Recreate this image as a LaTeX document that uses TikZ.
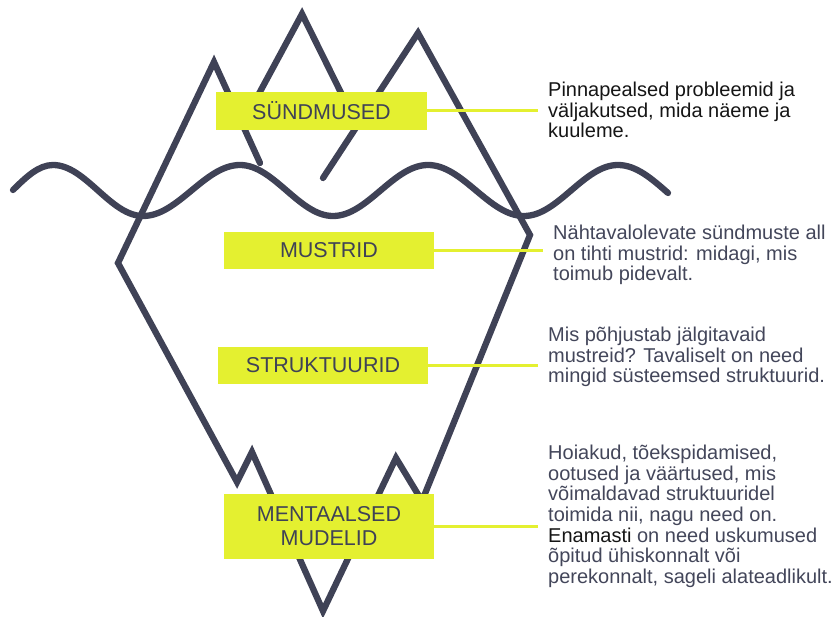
\documentclass[tikz,border=0pt]{standalone}
\usepackage{fontspec}
\setmainfont{Liberation Sans}
\definecolor{iceC}{HTML}{3F4256}
\definecolor{limeC}{HTML}{E4F030}
\definecolor{descC}{HTML}{43465A}
\definecolor{darkC}{HTML}{151515}
\begin{document}
\begin{tikzpicture}[x=1pt,y=-1pt,
  iceline/.style={draw=iceC,line width=6.3pt,line cap=round,line join=miter},
  boxlabel/.style={fill=limeC,text=iceC,minimum width=210pt,minimum height=37pt,inner sep=0pt,align=center,font=\fontsize{21.5}{24}\selectfont},
  linkline/.style={draw=limeC,line width=3pt},
  desctext/.style={anchor=north west,inner sep=0pt,align=left,text=descC,font=\fontsize{20}{20.7}\selectfont}]
\useasboundingbox (0,0) rectangle (839,617);
% iceberg outline
\draw[iceline] (260,163) -- (214,62) -- (118,263) -- (237,482) -- (252,452) -- (323,611) -- (396,458) -- (422,501) -- (530,235) -- (418,33) -- (323,178);
\draw[iceline] (242.4,124.4) -- (302,14) -- (357.7,126.5);
% water line
\draw[iceline] (13,190) sin (53,165) cos (98,190.5) sin (143,216) cos (191.5,190.5) sin (240,165) cos (286.5,190.5) sin (333,216) cos (380.5,190.5) sin (428,165) cos (476,190.5) sin (524,216) cos (571,190.5) sin (618,165) cos (668,193);
% labels
\node[boxlabel,minimum width=211pt,minimum height=38pt] (sund) at (321.5,111) {SÜNDMUSED};
\node[boxlabel] (must) at (329,250.5) {MUSTRID};
\node[boxlabel] (struk) at (323,365.5) {STRUKTUURID};
\node[boxlabel,minimum height=65pt] (ment) at (329,526.5) {MENTAALSED\\MUDELID};
% connector ends
\coordinate (e1) at (538,111);
\coordinate (e2) at (543,250.5);
\coordinate (e3) at (538,365.5);
\coordinate (e4) at (538,526.5);
\draw[linkline] (sund.east) -- (e1);
\draw[linkline] (must.east) -- (e2);
\draw[linkline] (struk.east) -- (e3);
\draw[linkline] (ment.east) -- (e4);
% descriptions
\node[desctext,text=darkC] (t1) at (548,81.7) {Pinnapealsed probleemid ja\\väljakutsed, mida näeme ja\\kuuleme.};
\node[desctext] (t2) at (553,224.7) {Nähtavalolevate sündmuste all\\on tihti mustrid: midagi, mis\\toimub pidevalt.};
\node[desctext] (t3) at (548,326.7) {Mis põhjustab jälgitavaid\\mustreid? Tavaliselt on need\\mingid süsteemsed struktuurid.};
\node[desctext] (t4) at (548,444.7) {Hoiakud, tõekspidamised,\\ootused ja väärtused, mis\\võimaldavad struktuuridel\\toimida nii, nagu need on.\\\textcolor{darkC}{Enamasti} on need uskumused\\õpitud ühiskonnalt või\\perekonnalt, sageli alateadlikult.};
\end{tikzpicture}
\end{document}
